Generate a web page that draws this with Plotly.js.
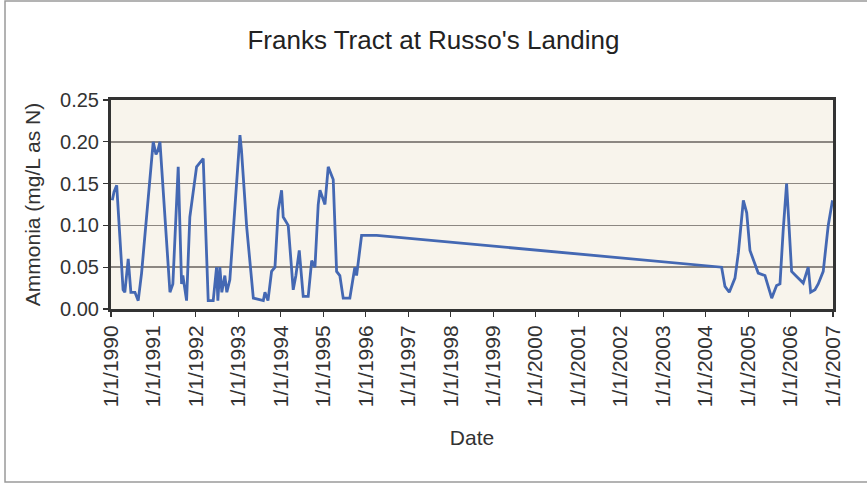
<!DOCTYPE html>
<html>
<head>
<meta charset="utf-8">
<script src="https://cdn.plot.ly/plotly-3.0.1.min.js"></script>
<style>
html,body{margin:0;padding:0;background:#fff;}
#chart{width:867px;height:487px;}
</style>
</head>
<body>
<div id="chart"></div>
<script>
// Sample dates and ammonia values (mg/L as N)
const dates = [
"1990-01-12","1990-01-27","1990-02-19","1990-03-18","1990-04-15","1990-04-30","1990-05-29","1990-06-21","1990-07-26","1990-08-23",
"1990-09-21","1990-12-30","1991-01-23","1991-02-09","1991-02-26","1991-05-23","1991-06-17","1991-08-02","1991-08-31","1991-09-11",
"1991-10-13","1991-11-10","1992-01-07","1992-03-04","1992-04-16","1992-05-29","1992-06-27","1992-07-08","1992-07-25","1992-08-11",
"1992-09-06","1992-09-23","1992-10-19","1993-01-14","1993-01-27","1993-03-13","1993-05-09","1993-08-03","1993-08-17","1993-09-12",
"1993-10-13","1993-11-11","1993-12-09","1994-01-07","1994-01-21","1994-03-05","1994-04-17","1994-05-10","1994-06-08","1994-07-12",
"1994-08-24","1994-09-23","1994-10-21","1994-11-18","1994-12-03","1995-01-15","1995-02-12","1995-03-27","1995-04-25","1995-05-23",
"1995-06-21","1995-08-17","1995-09-29","1995-10-14","1995-11-26","1996-04-04","2004-05-18","2004-06-16","2004-07-23","2004-09-10",
"2004-10-09","2004-11-21","2004-12-20","2005-01-17","2005-03-01","2005-03-29","2005-05-26","2005-07-23","2005-09-03","2005-10-02",
"2005-10-30","2005-11-28","2005-12-12","2006-01-10","2006-02-22","2006-04-20","2006-06-02","2006-06-23","2006-07-30","2006-08-27",
"2006-10-09","2006-11-21","2006-12-28"
];
const ammonia = [
0.130,0.140,0.148,0.090,0.023,0.020,0.060,0.020,0.020,0.010,
0.043,0.200,0.185,0.190,0.200,0.020,0.030,0.170,0.030,0.040,
0.010,0.110,0.170,0.180,0.010,0.010,0.050,0.010,0.050,0.020,
0.040,0.020,0.035,0.208,0.190,0.098,0.013,0.010,0.020,0.010,
0.045,0.050,0.118,0.142,0.110,0.100,0.023,0.040,0.070,0.015,
0.015,0.058,0.050,0.125,0.142,0.125,0.170,0.155,0.045,0.040,
0.013,0.013,0.050,0.040,0.088,0.088,0.050,0.027,0.020,0.037,
0.067,0.130,0.115,0.070,0.055,0.043,0.040,0.013,0.028,0.030,
0.095,0.150,0.116,0.045,0.039,0.031,0.050,0.020,0.023,0.030,
0.045,0.100,0.130
];
const tickYears = [1990,1991,1992,1993,1994,1995,1996,1997,1998,1999,2000,2001,2002,2003,2004,2005,2006,2007];
const tickDates = tickYears.map(y => y + "-01-01");
const tickLabels = tickYears.map(y => "1/1/" + y);
const yTicks = [0, 0.05, 0.10, 0.15, 0.20, 0.25];
const yTickLabels = ["0.00","0.05","0.10","0.15","0.20","0.25"];

const trace = {
  x: dates, y: ammonia, type: "scatter", mode: "lines",
  line: {color: "#4468b3", width: 2.8},
  hoverinfo: "skip"
};

const FONT = "Liberation Sans, Arial, sans-serif";
const layout = {
  width: 867, height: 487,
  margin: {l: 111, r: 34, t: 100, b: 178},
  paper_bgcolor: "#ffffff",
  plot_bgcolor: "#f8f4ec",
  showlegend: false,
  font: {family: FONT, color: "#333"},
  title: {
    text: "Franks Tract at Russo's Landing",
    x: 0.5, xref: "container", y: 0.918, yref: "container", yanchor: "middle",
    font: {size: 26, color: "#222", family: FONT}
  },
  xaxis: {
    type: "date",
    range: ["1990-01-01", "2007-01-01"],
    tickmode: "array", tickvals: tickDates, ticktext: tickLabels,
    tickangle: -90,
    tickfont: {size: 21, color: "#333"},
    ticks: "outside", ticklen: 5, tickwidth: 1.2, tickcolor: "#333",
    showgrid: false, zeroline: false,
    showline: true, linecolor: "#333", linewidth: 3, mirror: true,
    title: {text: "Date", font: {size: 21, color: "#333"}, standoff: 25}
  },
  yaxis: {
    range: [0, 0.25],
    tickmode: "array", tickvals: yTicks, ticktext: yTickLabels,
    tickfont: {size: 20, color: "#333"},
    ticks: "outside", ticklen: 5, tickwidth: 1.2, tickcolor: "#333",
    showgrid: true, gridcolor: "#8c8782", gridwidth: 1.5,
    zeroline: false,
    showline: true, linecolor: "#333", linewidth: 3, mirror: true,
    title: {text: "Ammonia (mg/L as N)", font: {size: 21, color: "#333"}, standoff: 14}
  },
  shapes: [{
    type: "rect", xref: "paper", yref: "paper",
    x0: -0.1468, x1: 1.06, y0: -0.8278, y1: 1.4737,
    line: {color: "#9a9a9a", width: 1.5}, fillcolor: "rgba(0,0,0,0)", layer: "below"
  }]
};

Plotly.newPlot("chart", [trace], layout, {displayModeBar: false, staticPlot: true});
</script>
</body>
</html>
